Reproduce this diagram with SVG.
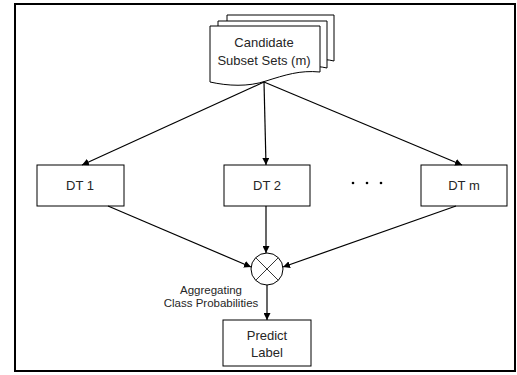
<svg xmlns="http://www.w3.org/2000/svg" width="517" height="375" viewBox="0 0 517 375">
<style>
.box{fill:#fff;stroke:#000;stroke-width:1}
.t{font-family:"Liberation Sans",Arial,sans-serif;font-size:13px;fill:#262626;text-anchor:middle}
.s{font-family:"Liberation Sans",Arial,sans-serif;font-size:11.5px;fill:#262626;text-anchor:middle}
.c{stroke:#000;stroke-width:1.2;fill:none;marker-end:url(#ah)}
</style>
<defs>
<marker id="ah" viewBox="0 0 10 10" refX="10" refY="5" markerWidth="7" markerHeight="7" orient="auto" markerUnits="userSpaceOnUse">
<path d="M0,0 L10,5 L0,10 Z" fill="#000"/>
</marker>
</defs>
<rect x="0" y="0" width="517" height="375" fill="#fff"/>
<rect x="15" y="4" width="500" height="367" fill="none" stroke="#000" stroke-width="2"/>
<g id="candidates">
<path class="box" d="M227,15 H334 V61 C322,58 312,60 300,63 H227 Z"/>
<path class="box" d="M218,21 H327 V68 C314,65 304,67 292,70 H218 Z"/>
<path class="box" d="M210,26 H320 V72 C300,70 285,75 266,81 C248,87 228,86 210,82 Z"/>
<text class="t" x="264" y="47">Candidate</text>
<text class="t" x="264" y="65">Subset Sets (m)</text>
</g>
<g id="dt1"><rect class="box" x="37" y="165" width="87" height="41"/><text class="t" x="80" y="190">DT 1</text></g>
<g id="dt2"><rect class="box" x="224" y="165" width="86" height="41"/><text class="t" x="267" y="190">DT 2</text></g>
<g id="dots"><circle cx="353" cy="183" r="1.3" fill="#000"/><circle cx="367" cy="183" r="1.3" fill="#000"/><circle cx="381" cy="183" r="1.3" fill="#000"/></g>
<g id="dtm"><rect class="box" x="421" y="165" width="86" height="41"/><text class="t" x="464" y="190">DT m</text></g>
<g id="aggregator">
<circle cx="267" cy="269" r="16" fill="#fff" stroke="#000" stroke-width="1"/>
<path d="M255.7,257.7 L278.3,280.3 M278.3,257.7 L255.7,280.3" stroke="#000" stroke-width="0.8"/>
<text class="s" x="211" y="294">Aggregating</text>
<text class="s" x="211" y="307">Class Probabilities</text>
</g>
<g id="predict"><rect class="box" x="223" y="320" width="88" height="46"/><text class="t" x="267" y="340">Predict</text><text class="t" x="267" y="357">Label</text></g>
<g id="connectors">
<path class="c" d="M264,82 L82,165"/>
<path class="c" d="M264,82 L266,165"/>
<path class="c" d="M264,82 L462,165"/>
<path class="c" d="M108,206 L251,267"/>
<path class="c" d="M266,206 L266,253"/>
<path class="c" d="M456,206 L283,267"/>
<path class="c" d="M267,285 L267,320"/>
</g>
</svg>
